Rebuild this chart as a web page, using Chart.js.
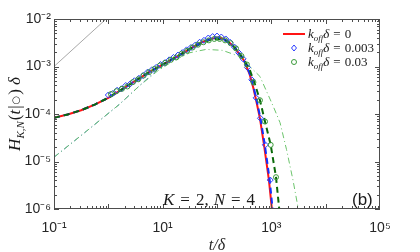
<!DOCTYPE html>
<html>
<head>
<meta charset="utf-8">
<script src="https://cdn.jsdelivr.net/npm/chart.js@4"></script>
<style>
  html, body { margin: 0; padding: 0; background: #fff; }
</style>
</head>
<body>
<canvas id="c" width="420" height="252"></canvas>
<script>
// values (t/delta, H*delta)
const tRed = [0.1, 0.178, 0.316, 0.562, 1, 1.78, 3.16, 5.62, 10, 17.8, 31.6, 50.1, 70.8, 100, 126, 158, 200, 251, 316, 398, 468, 525, 617, 733, 902, 1028, 1096];
const hRed = [8.3e-5, 9.8e-5, 1.2e-4, 1.58e-4, 2.19e-4, 3.31e-4, 5.0e-4, 7.6e-4, 1.1e-3, 1.58e-3, 2.34e-3, 3.16e-3, 3.72e-3, 4.07e-3, 3.89e-3, 3.39e-3, 2.69e-3, 1.91e-3, 1.32e-3, 6.9e-4, 3.47e-4, 1.95e-4, 8.1e-5, 2.24e-5, 4.1e-6, 9.5e-7, 4.0e-7];

const tBlue = [0.1, 0.178, 0.316, 0.562, 1, 1.78, 3.16, 5.62, 10, 17.8, 31.6, 50.1, 70.8, 100, 126, 158, 200, 251, 316, 398, 468, 525, 631, 759, 933, 1059, 1122];
const hBlue = [8.3e-5, 9.8e-5, 1.2e-4, 1.58e-4, 2.19e-4, 3.31e-4, 5.0e-4, 7.6e-4, 1.1e-3, 1.58e-3, 2.34e-3, 3.16e-3, 3.72e-3, 4.07e-3, 3.89e-3, 3.39e-3, 2.69e-3, 1.91e-3, 1.32e-3, 7.2e-4, 3.8e-4, 2.19e-4, 8.1e-5, 2.24e-5, 4.1e-6, 9.5e-7, 4.0e-7];

const tGreen = [0.1, 0.178, 0.316, 0.562, 1, 1.78, 3.16, 5.62, 10, 17.8, 31.6, 50.1, 70.8, 100, 126, 158, 200, 251, 316, 398, 501, 617, 766, 973, 1219, 1403, 1514];
const hGreen = [8.3e-5, 9.8e-5, 1.2e-4, 1.58e-4, 2.19e-4, 3.31e-4, 5.0e-4, 7.6e-4, 1.1e-3, 1.58e-3, 2.34e-3, 3.02e-3, 3.55e-3, 3.8e-3, 3.72e-3, 3.31e-3, 2.69e-3, 2.0e-3, 1.38e-3, 8.7e-4, 4.17e-4, 1.95e-4, 6.9e-5, 2.24e-5, 4.7e-6, 9.5e-7, 4.0e-7];

// simulation markers, koff*delta = 0.003
const tDiamond = [1.0, 1.2, 1.45, 1.74, 2.09, 2.51, 3.02, 3.63, 4.37, 5.25, 6.31, 7.59, 9.12, 11.0, 13.2, 15.8, 19.1, 22.9, 27.5, 33.1, 39.8, 47.9, 57.5, 69.2, 83.2, 100, 120, 145, 174, 209, 251, 302, 363, 437, 525, 631, 776, 955];
const hDiamond = [2.51e-4, 2.69e-4, 3.16e-4, 3.39e-4, 3.98e-4, 4.27e-4, 5.01e-4, 5.62e-4, 6.46e-4, 7.59e-4, 8.51e-4, 9.55e-4, 1.10e-3, 1.20e-3, 1.38e-3, 1.55e-3, 1.74e-3, 1.95e-3, 2.24e-3, 2.51e-3, 2.82e-3, 3.24e-3, 3.55e-3, 3.98e-3, 4.27e-3, 4.37e-3, 4.17e-3, 3.80e-3, 3.24e-3, 2.57e-3, 1.95e-3, 1.45e-3, 9.55e-4, 5.25e-4, 2.19e-4, 8.13e-5, 2.24e-5, 4.07e-6];

// simulation markers, koff*delta = 0.03
const tCircle = [1.12, 1.41, 1.78, 2.24, 2.82, 3.55, 4.47, 5.62, 7.08, 8.91, 11.2, 14.1, 17.8, 22.4, 28.2, 35.5, 44.7, 56.2, 70.8, 89.1, 112, 141, 178, 224, 282, 355, 468, 617, 766, 973, 1219];
const hCircle = [2.63e-4, 3.02e-4, 3.39e-4, 3.80e-4, 4.68e-4, 5.37e-4, 6.46e-4, 7.59e-4, 8.91e-4, 1.05e-3, 1.20e-3, 1.38e-3, 1.55e-3, 1.86e-3, 2.14e-3, 2.51e-3, 2.88e-3, 3.24e-3, 3.55e-3, 3.80e-3, 3.80e-3, 3.55e-3, 3.09e-3, 2.40e-3, 1.66e-3, 1.10e-3, 4.68e-4, 1.95e-4, 6.92e-5, 2.24e-5, 4.68e-6];

// thin dash-dot curves and grey guide line
const tDashDotGreen = [0.1, 0.398, 1.58, 3.8, 7.94, 15.8, 31.6, 63.1, 126, 263, 617, 1096, 1445, 1905, 2512, 3162, 3388];
const hDashDotGreen = [1.23e-5, 4.37e-5, 1.58e-4, 3.98e-4, 7.94e-4, 1.32e-3, 1.95e-3, 2.29e-3, 2.19e-3, 1.62e-3, 6.17e-4, 1.41e-4, 6.6e-5, 1.78e-5, 3.98e-6, 9.5e-7, 5.0e-7];
const tDashDotBlue = [0.1, 0.398, 1.58, 3.8, 7.94];
const hDashDotBlue = [1.23e-5, 4.37e-5, 1.58e-4, 4.0e-4, 8.5e-4];
const tGrey = [0.1, 0.91];
const hGrey = [1e-3, 1e-2];

const xTickValues = [0.1, 10, 1000, 100000];
const xTickLabels = ['10⁻¹', '10¹', '10³', '10⁵'];
const yTickValues = [1e-6, 1e-5, 1e-4, 1e-3, 1e-2];
const yTickLabels = ['10⁻⁶', '10⁻⁵', '10⁻⁴', '10⁻³', '10⁻²'];
const legendValues = ['0', '0.003', '0.03'];

const SERIF = '"Liberation Serif", "DejaVu Serif", serif';
const SANS = '"Liberation Sans", Arial, sans-serif';

function pts(xs, ys) {
    return xs.map((x, i) => ({x: x, y: ys[i]}));
}

function drawRuns(ctx, runs, x, y) {
    for (const r of runs) {
        ctx.font = r.f;
        ctx.fillText(r.t, x, y + (r.dy || 0));
        x += ctx.measureText(r.t).width + (r.sp || 0);
    }
    return x;
}

function runsWidth(ctx, runs) {
    let w = 0;
    for (const r of runs) {
        ctx.font = r.f;
        w += ctx.measureText(r.t).width + (r.sp || 0);
    }
    return w;
}

// MATLAB-style box with inward ticks on all four sides, plus the text overlays
const frame = {
    id: 'frame',
    afterDatasetsDraw(chart) {
        const ctx = chart.ctx;
        const a = chart.chartArea;
        const xs = chart.scales.x, ys = chart.scales.y;
        ctx.save();
        ctx.strokeStyle = '#4d4d4d';
        ctx.lineWidth = 1;
        ctx.strokeRect(Math.round(a.left) + 0.5, Math.round(a.top) + 0.5,
            Math.round(a.right - a.left) - 1, Math.round(a.bottom - a.top) - 1);

        ctx.beginPath();
        for (let e = -1; e < 5; e++) {
            for (let m = 1; m < 10; m++) {
                const px = Math.round(xs.getPixelForValue(m * Math.pow(10, e))) + 0.5;
                const len = m === 1 ? 5 : 3;
                ctx.moveTo(px, a.bottom); ctx.lineTo(px, a.bottom - len);
                ctx.moveTo(px, a.top); ctx.lineTo(px, a.top + len);
            }
        }
        for (let e = -6; e < -2; e++) {
            for (let m = 1; m < 10; m++) {
                const py = Math.round(ys.getPixelForValue(m * Math.pow(10, e))) + 0.5;
                const len = m === 1 ? 5 : 3;
                ctx.moveTo(a.left, py); ctx.lineTo(a.left + len, py);
                ctx.moveTo(a.right, py); ctx.lineTo(a.right - len, py);
            }
        }
        ctx.stroke();

        // legend
        const ds = chart.data.datasets;
        const lx = 283, tx = 308;
        const rows = [34, 48, 62];
        ctx.lineWidth = 2;
        ctx.strokeStyle = ds[0].borderColor;
        ctx.beginPath(); ctx.moveTo(lx, rows[0]); ctx.lineTo(lx + 22, rows[0]); ctx.stroke();
        ctx.lineWidth = 1;
        ctx.strokeStyle = ds[3].borderColor;
        ctx.beginPath();
        ctx.moveTo(lx + 11, rows[1] - 3); ctx.lineTo(lx + 13.5, rows[1]);
        ctx.lineTo(lx + 11, rows[1] + 3); ctx.lineTo(lx + 8.5, rows[1]); ctx.closePath();
        ctx.stroke();
        ctx.strokeStyle = ds[4].borderColor;
        ctx.beginPath(); ctx.arc(lx + 11, rows[2], 2.5, 0, Math.PI * 2); ctx.stroke();

        ctx.fillStyle = '#1a1a1a';
        ctx.textBaseline = 'alphabetic';
        legendValues.forEach((v, i) => {
            drawRuns(ctx, [
                {t: 'k', f: 'italic 13px ' + SERIF},
                {t: 'off', f: 'italic 9px ' + SERIF, dy: 3},
                {t: 'δ', f: 'italic 13px ' + SERIF, sp: 4},
                {t: '=', f: '13px ' + SERIF, sp: 4},
                {t: v, f: '13px ' + SERIF}
            ], tx, rows[i] + 4);
        });

        // K = 2, N = 4
        drawRuns(ctx, [
            {t: 'K', f: 'italic 17px ' + SERIF, sp: 6},
            {t: '=', f: '17px ' + SERIF, sp: 6},
            {t: '2,', f: '17px ' + SERIF, sp: 5},
            {t: 'N', f: 'italic 17px ' + SERIF, sp: 6},
            {t: '=', f: '17px ' + SERIF, sp: 6},
            {t: '4', f: '17px ' + SERIF}
        ], 163, 205);

        ctx.font = '17px ' + SANS;
        ctx.fillText('(b)', 352, 205);

        // y axis label
        const yl = [
            {t: 'H', f: 'italic 17px ' + SERIF},
            {t: 'K,N', f: 'italic 11px ' + SERIF, dy: 4, sp: 1},
            {t: '(', f: '17px ' + SERIF},
            {t: 't', f: 'italic 17px ' + SERIF, sp: 1},
            {t: '|', f: '17px ' + SERIF, sp: 1},
            {t: '○', f: '10px "DejaVu Sans"', dy: -1, sp: 1},
            {t: ')', f: '17px ' + SERIF, sp: 4},
            {t: 'δ', f: 'italic 17px ' + SERIF}
        ];
        const w = runsWidth(ctx, yl);
        ctx.translate(20, (a.top + a.bottom) / 2);
        ctx.rotate(-Math.PI / 2);
        drawRuns(ctx, yl, -w / 2, 0);
        ctx.restore();
    }
};

const lineBase = {showLine: true, pointRadius: 0, fill: false, tension: 0};

new Chart(document.getElementById('c'), {
    type: 'scatter',
    data: {
        datasets: [
            Object.assign({label: 'koff=0', data: pts(tRed, hRed), borderColor: '#ff1414', borderWidth: 2, order: 5}, lineBase),
            Object.assign({label: 'koff=0.003 theory', data: pts(tBlue, hBlue), borderColor: '#1030ff', borderWidth: 2, borderDash: [6, 4], order: 4}, lineBase),
            Object.assign({label: 'koff=0.03 theory', data: pts(tGreen, hGreen), borderColor: '#0a6a0a', borderWidth: 2, borderDash: [6, 4], order: 3}, lineBase),
            {label: 'koff=0.003', data: pts(tDiamond, hDiamond), pointStyle: 'rectRot', pointRadius: 3,
                borderColor: '#2a3cff', backgroundColor: 'rgba(0,0,0,0)', borderWidth: 1, order: 2},
            {label: 'koff=0.03', data: pts(tCircle, hCircle), pointStyle: 'circle', pointRadius: 2.5,
                borderColor: '#3a9a3a', backgroundColor: 'rgba(0,0,0,0)', borderWidth: 1, order: 1},
            Object.assign({label: 'dash-dot green', data: pts(tDashDotGreen, hDashDotGreen), borderColor: '#6cc46c', borderWidth: 1, borderDash: [6, 3, 1, 3], order: 6}, lineBase),
            Object.assign({label: 'dash-dot blue', data: pts(tDashDotBlue, hDashDotBlue), borderColor: '#4f7fd0', borderWidth: 1, borderDash: [6, 3, 1, 3], order: 7}, lineBase),
            Object.assign({label: 'guide', data: pts(tGrey, hGrey), borderColor: '#a8a8a8', borderWidth: 1, order: 8}, lineBase)
        ]
    },
    options: {
        responsive: false,
        animation: false,
        devicePixelRatio: 1,
        layout: {padding: {left: 0, right: 40, top: 19, bottom: 0}},
        plugins: {legend: {display: false}, tooltip: {enabled: false}},
        scales: {
            x: {
                type: 'logarithmic',
                min: 0.1,
                max: 100000,
                grid: {display: false, drawTicks: false},
                border: {display: false},
                afterBuildTicks: (s) => { s.ticks = xTickValues.map(v => ({value: v})); },
                afterFit: (s) => { s.height = 43; },
                ticks: {
                    autoSkip: false,
                    maxRotation: 0,
                    padding: 11,
                    color: '#262626',
                    font: {family: SANS, size: 14},
                    callback: (v) => xTickLabels[xTickValues.indexOf(v)]
                },
                title: {
                    display: true,
                    text: 't/δ',
                    color: '#262626',
                    padding: {top: 0, bottom: -3},
                    font: {family: SERIF, style: 'italic', size: 16}
                }
            },
            y: {
                type: 'logarithmic',
                min: 1e-6,
                max: 1e-2,
                grid: {display: false, drawTicks: false},
                border: {display: false},
                afterBuildTicks: (s) => { s.ticks = yTickValues.map(v => ({value: v})); },
                afterFit: (s) => { s.width = 54; },
                ticks: {
                    autoSkip: false,
                    padding: 3,
                    color: '#262626',
                    font: {family: SANS, size: 14},
                    callback: (v) => yTickLabels[yTickValues.indexOf(v)]
                }
            }
        }
    },
    plugins: [frame]
});
</script>
</body>
</html>
